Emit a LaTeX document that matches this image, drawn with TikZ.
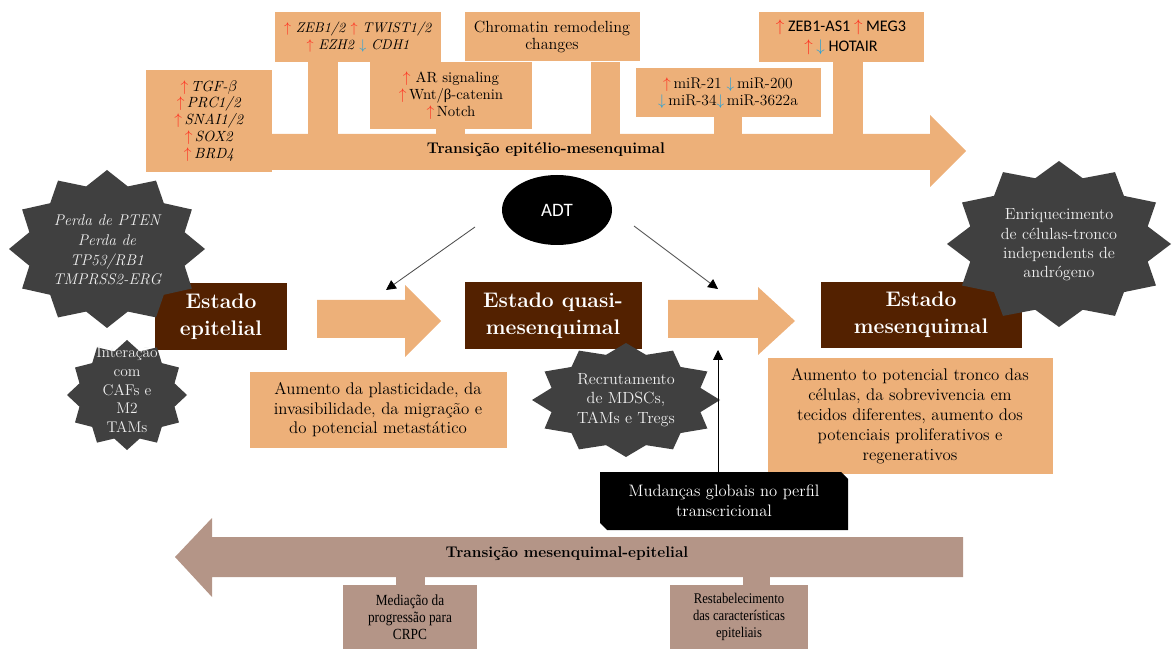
\documentclass[tikz,border=0pt]{standalone}
\usepackage{fontspec}
\newfontfamily\grk{Liberation Serif}
\newfontfamily\calibri{Carlito}
\newfontfamily\narrowserif[FakeStretch=0.86]{Liberation Serif}
\usetikzlibrary{shapes.geometric,arrows.meta}

\definecolor{emtorange}{RGB}{237,176,121}
\definecolor{statebrown}{RGB}{83,33,0}
\definecolor{stargray}{RGB}{64,64,64}
\definecolor{starfont}{RGB}{240,240,240}
\definecolor{metrose}{RGB}{180,149,135}
\definecolor{upred}{RGB}{255,45,30}
\definecolor{downblue}{RGB}{30,160,220}

\newcommand{\upr}{\textcolor{upred}{$\uparrow$}}
\newcommand{\dnb}{\textcolor{downblue}{$\downarrow$}}

% twelve-point star around (x,y) with radii rx, ry
\newcommand{\spikestar}[4]{%
  \fill[stargray] plot[samples at={0,...,23}, variable=\k]
    ({#1+#3*(1-0.18*mod(\k,2))*sin(\k*15)}, {#2-#4*(1-0.18*mod(\k,2))*cos(\k*15)}) -- cycle;}

\begin{document}
\begin{tikzpicture}[x=0.025cm,y=-0.025cm,
  wh/.style 2 args={minimum width=#1*0.025cm, minimum height=#2*0.025cm, inner sep=0pt},
  orangebox/.style={fill=emtorange, align=center, font=\fontsize{10.5}{12}\selectfont},
  statebox/.style={fill=statebrown, text=white, align=center, font=\fontsize{15}{19}\selectfont\bfseries},
  desc/.style={fill=emtorange, align=center, font=\fontsize{12}{13.8}\selectfont},
  startext/.style={text=starfont, align=center, font=\fontsize{11.5}{13.8}\selectfont},
  metbox/.style={fill=metrose, align=center, font=\narrowserif\fontsize{11}{12}\selectfont},
  adtarrow/.style={draw=black!70, line width=0.6pt, -{Triangle[length=7pt,width=7pt,black]}}]
\useasboundingbox (0,0) rectangle (1172,649);

% transicao epitelio-mesenquimal
\fill[emtorange] (308,62) rectangle (338,134);
\fill[emtorange] (436,128) rectangle (465,134);
\fill[emtorange] (591,62) rectangle (620,134);
\fill[emtorange] (714,116) rectangle (742,134);
\fill[emtorange] (833,62) rectangle (863,134);
\fill[emtorange] (146,134) -- (930,134) -- (930,115) -- (966,151) -- (930,187) -- (930,170) -- (146,170) -- cycle;
\node[font=\fontsize{11}{13}\selectfont\bfseries] (emt) at (546,150) {Transição epitélio-mesenquimal};

\node[orangebox, wh={126}{102}] (tgf) at (209,121) {\upr\,\textit{TGF-$\beta$}\\ \upr\,\textit{PRC1/2}\\ \upr\,\textit{SNAI1/2}\\ \upr\,\textit{SOX2}\\ \upr\,\textit{BRD4}};
\node[orangebox, wh={166}{50}, font=\fontsize{10}{12.5}\selectfont] (zeb) at (358,37) {\upr\ \textit{ZEB1/2} \upr\ \textit{TWIST1/2}\\ \upr\ \textit{EZH2} \dnb\ \textit{CDH1}};
\node[orangebox, wh={162}{67}] (ar) at (451,96) {\upr\ AR signaling\\ \upr\,Wnt/{\grk β}-catenin\\ \upr\,Notch};
\node[orangebox, wh={175}{49}, font=\fontsize{11.5}{12.5}\selectfont] (chrom) at (552,37) {Chromatin remodeling\\changes};
\node[orangebox, wh={185}{49}, font=\fontsize{11}{12.5}\selectfont] (mir) at (728,93) {\upr\,miR-21 \dnb\,miR-200\\ \dnb\,miR-34\dnb\,miR-3622a};
\node[orangebox, wh={165}{50}, font=\calibri\fontsize{11.5}{14}\selectfont] (lnc) at (841,37) {\upr\ ZEB1-AS1 \upr\ MEG3\\ \upr\ \dnb\ HOTAIR};

% estados
\fill[emtorange] (317,300) -- (405,300) -- (405,285) -- (441,321) -- (405,357) -- (405,338) -- (317,338) -- cycle;
\fill[emtorange] (668,300) -- (758,300) -- (758,287) -- (795,321) -- (758,355) -- (758,338) -- (668,338) -- cycle;

\node[statebox, wh={132}{67}] (epi) at (221,317) {Estado\\epitelial};
\node[statebox, wh={177}{67}] (quasi) at (553,316) {Estado quasi-\\mesenquimal};
\node[statebox, wh={201}{66}] (mes) at (921,315) {Estado\\mesenquimal};

\node[ellipse, fill=black, text=white, wh={110}{70}, font=\calibri\fontsize{13.5}{15}\selectfont] (adt) at (557,210) {ADT};
\coordinate (adtl) at (475,227);
\coordinate (tipl) at (386,290);
\coordinate (adtr) at (634,226);
\coordinate (tipr) at (718,289);
\draw[adtarrow] (adtl) -- (tipl);
\draw[adtarrow] (adtr) -- (tipr);

\node[desc, wh={257}{75}] (gain1) at (378,410) {Aumento da plasticidade, da\\invasibilidade, da migração e\\do potencial metastático};
\node[desc, wh={285}{116}, font=\fontsize{12}{14.2}\selectfont] (gain2) at (910,416) {Aumento to potencial tronco das\\células, da sobrevivencia em\\tecidos diferentes, aumento dos\\potenciais proliferativos e\\regenerativos};

% estrelas
\spikestar{107}{249}{98}{79}
\node[startext, font=\itshape\fontsize{11}{14}\selectfont] (loss) at (107,250) {Perda de PTEN\\Perda de\\TP53/RB1\\TMPRSS2-ERG};
\spikestar{127}{395}{60}{55}
\node[startext, font=\fontsize{11}{13.3}\selectfont] (caf) at (127,390) {Interação\\com\\CAFs e\\M2\\TAMs};
\spikestar{626}{400}{94}{57}
\node[startext] (recr) at (626,400) {Recrutamento\\de MDSCs,\\TAMs e Tregs};
\spikestar{1059}{244}{112}{83}
\node[startext] (stemc) at (1059,245) {Enriquecimento\\de células-tronco\\independents de\\andrógeno};

% mudancas globais
\fill[black] (600,472) -- (841,472) -- (848,479) -- (848,530) -- (607,530) -- (600,523) -- cycle;
\node[text=white, align=center, wh={248}{58}, font=\fontsize{11.8}{14}\selectfont] (glob) at (724,501) {Mudanças globais no perfil\\transcricional};
\coordinate (tipv) at (718,350);
\draw[line width=0.6pt, -{Triangle[length=7pt,width=7pt]}] (glob.north -| tipv) -- (tipv);

% transicao mesenquimal-epitelial
\fill[metrose] (396,577) rectangle (425,585);
\fill[metrose] (743,577) rectangle (770,585);
\fill[metrose] (963,537) -- (212,537) -- (212,518) -- (175,557) -- (212,597) -- (212,577) -- (963,577) -- cycle;
\node[font=\fontsize{11}{13}\selectfont\bfseries] (met) at (567,554) {Transição mesenquimal-epitelial};
\node[metbox, wh={134}{64}] (crpc) at (410,617) {Mediação da\\progressão para\\CRPC};
\node[metbox, wh={138}{64}, font=\narrowserif\fontsize{10.5}{11.8}\selectfont] (epiback) at (739,617) {Restabelecimento\\das características\\epiteliais};
\end{tikzpicture}
\end{document}
